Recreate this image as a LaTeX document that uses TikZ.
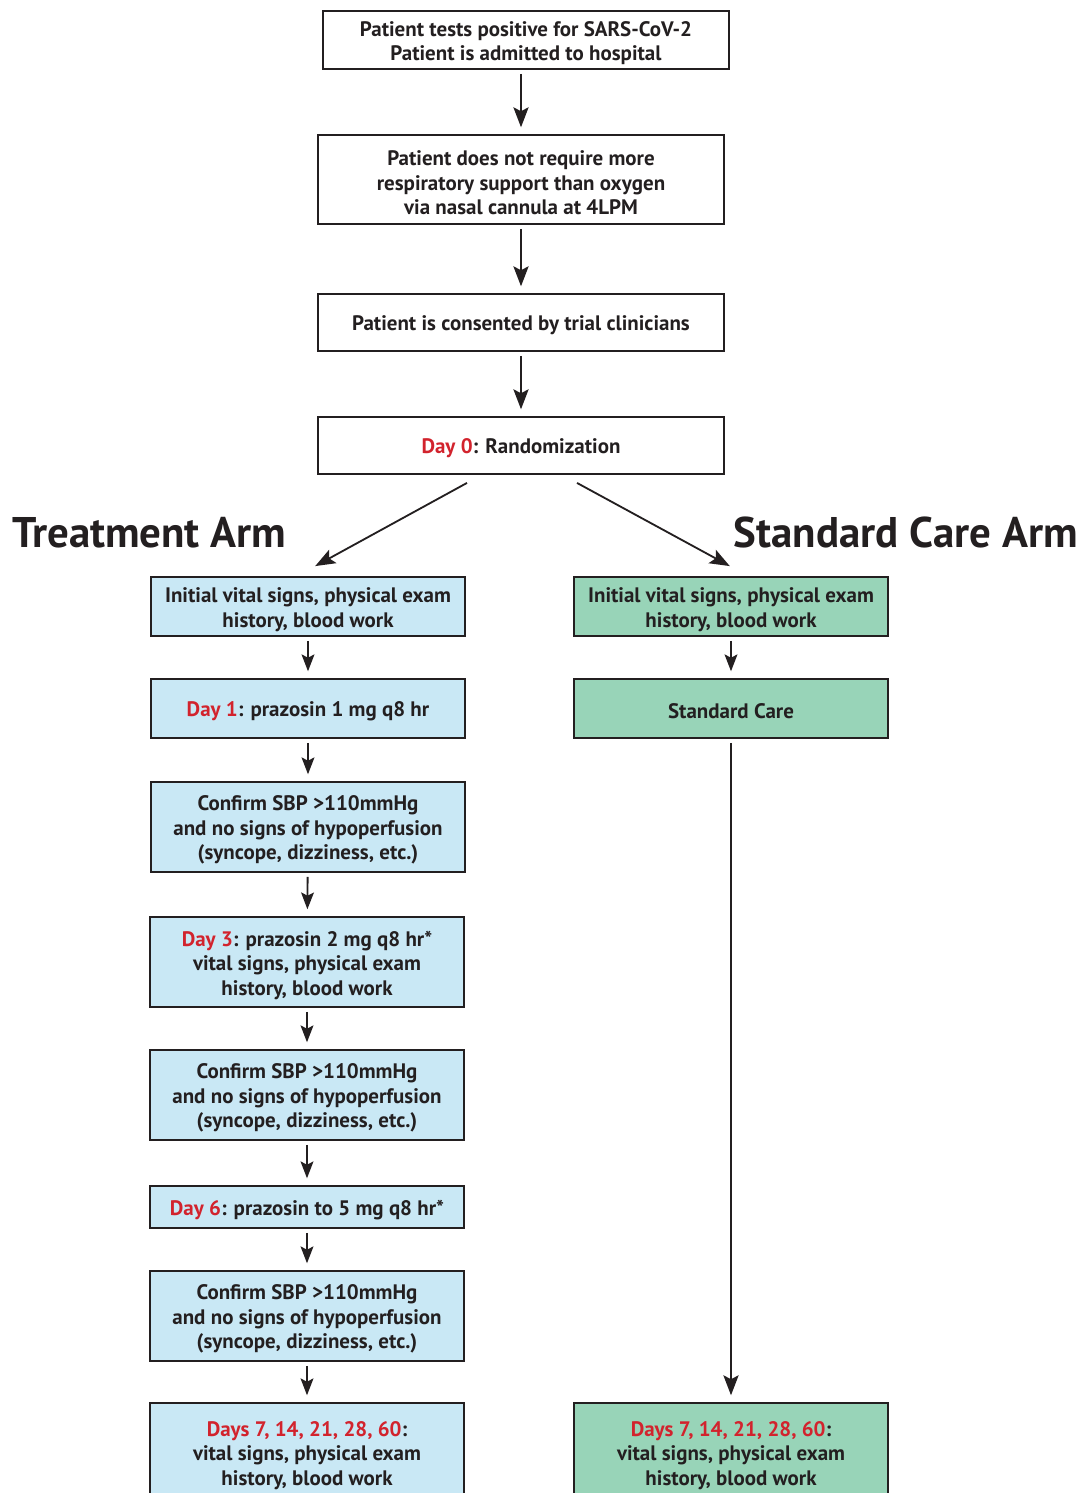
\documentclass[tikz,border=0pt]{standalone}
\usepackage{fontspec}
\setmainfont{PT Sans}
\usetikzlibrary{arrows.meta}

\definecolor{tinta}{RGB}{35,31,32}
\definecolor{azulbrazo}{RGB}{201,232,245}
\definecolor{verdebrazo}{RGB}{152,212,184}
\definecolor{rojodia}{RGB}{210,35,45}
\newcommand{\dia}[1]{\textcolor{rojodia}{#1}}

\begin{document}
\begin{tikzpicture}[x=0.025cm, y=-0.025cm,
    caja/.style={draw=tinta, line width=1.3pt, align=center, text=tinta, inner sep=0pt,
      font=\bfseries\fontsize{14.9}{17.4}\selectfont, lineas=15pt},
    lineas/.style={execute at begin node={\rule{0pt}{#1}}},
    dos/.style={lineas=32.6pt},
    tres/.style={lineas=50pt},
    ancha/.style={caja, minimum width=10.15cm},
    trat/.style={caja, fill=azulbrazo, minimum width=7.85cm},
    estd/.style={caja, fill=verdebrazo, minimum width=7.85cm},
    titulo/.style={text=tinta, inner sep=0pt, font=\bfseries\fontsize{30.5}{36}\selectfont},
    flecha/.style={draw=tinta, line width=1.3pt, -{Stealth[length=0.5cm, width=0.38cm, inset=0.1cm]},
      shorten <=0.1cm, shorten >=0.17cm},
    flechita/.style={flecha, -{Stealth[length=0.42cm, width=0.32cm, inset=0.08cm]}}]
    \useasboundingbox (0,0) rectangle (1084,1493);

    % Cajas comunes
    \node[ancha, dos, minimum height=1.45cm] (b1) at (526,40) {Patient tests positive for SARS-CoV-2\\Patient is admitted to hospital};
    \node[ancha, tres, minimum height=2.225cm] (b2) at (521,179.5) {Patient does not require more\\respiratory support than oxygen\\via nasal cannula at 4LPM};
    \node[ancha, minimum height=1.425cm] (b3) at (521,322.5) {Patient is consented by trial clinicians};
    \node[ancha, minimum height=1.425cm] (d0) at (521,445.5) {\dia{Day 0}: Randomization};

    \draw[flecha] (b1.south -| b2.north) -- (b2.north);
    \draw[flecha] (b2) -- (b3);
    \draw[flecha] (b3) -- (d0);

    % Titulos de los brazos
    \node[titulo, anchor=base west] (tt) at (12,547) {Treatment Arm};
    \node[titulo, anchor=base east] (ts) at (1078,547) {Standard Care Arm};

    % Brazo de tratamiento
    \node[trat, dos, minimum height=1.475cm] (t1) at (308,606.5) {Initial vital signs, physical exam\\history, blood work};
    \node[trat, minimum height=1.475cm] (t2) at (308,708.5) {\dia{Day 1}: prazosin 1 mg q8 hr};
    \node[trat, tres, minimum height=2.25cm] (t3) at (308,827) {Confirm SBP >110mmHg\\and no signs of hypoperfusion\\(syncope, dizziness, etc.)};
    \node[trat, tres, minimum height=2.25cm] (t4) at (307,962) {\dia{Day 3}: prazosin 2 mg q8 hr*\\vital signs, physical exam\\history, blood work};
    \node[trat, tres, minimum height=2.25cm] (t5) at (307,1095) {Confirm SBP >110mmHg\\and no signs of hypoperfusion\\(syncope, dizziness, etc.)};
    \node[trat, minimum height=1.05cm] (t6) at (307,1207) {\dia{Day 6}: prazosin to 5 mg q8 hr*};
    \node[trat, tres, minimum height=2.25cm] (t7) at (307,1316) {Confirm SBP >110mmHg\\and no signs of hypoperfusion\\(syncope, dizziness, etc.)};
    \node[trat, tres, minimum height=2.45cm] (t8) at (307,1452) {\dia{Days 7, 14, 21, 28, 60}:\\vital signs, physical exam\\history, blood work};

    \foreach \a/\b in {t1/t2, t2/t3, t3/t4, t4/t5, t5/t6, t6/t7, t7/t8}
      \draw[flechita] (\a) -- (\b);

    % Brazo de cuidado estandar
    \node[estd, dos, minimum height=1.475cm] (s1) at (731,606.5) {Initial vital signs, physical exam\\history, blood work};
    \node[estd, minimum height=1.475cm] (s2) at (731,708.5) {Standard Care};
    \node[estd, tres, minimum height=2.45cm] (s3) at (731,1452) {\dia{Days 7, 14, 21, 28, 60}:\\vital signs, physical exam\\history, blood work};

    \draw[flechita] (s1) -- (s2);
    \draw[flecha] (s2) -- (s3);

    % Flechas diagonales desde la aleatorizacion
    \draw[flecha, shorten <=0pt, shorten >=0pt] ([xshift=-1.35cm, yshift=-0.2cm]d0.south) -- ([xshift=0.18cm, yshift=0.25cm]t1.north);
    \draw[flecha, shorten <=0pt, shorten >=0pt] ([xshift=1.4cm, yshift=-0.2cm]d0.south) -- ([xshift=-0.03cm, yshift=0.25cm]s1.north);
  \end{tikzpicture}
\end{document}
